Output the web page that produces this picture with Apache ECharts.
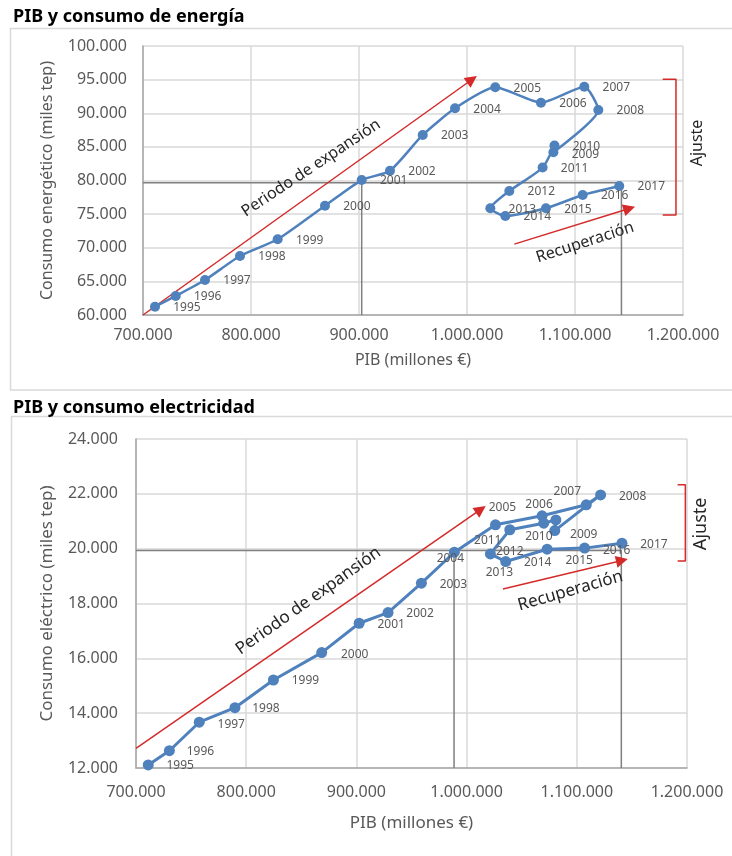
<!DOCTYPE html>
<html>
<head>
<meta charset="utf-8">
<script src="https://cdn.jsdelivr.net/npm/echarts@6/dist/echarts.min.js"></script>
<style>
  html, body { margin: 0; padding: 0; background: #fff; }
  #chart { width: 732px; height: 856px; }
</style>
</head>
<body>
<div id="chart"></div>
<script>
// años y datos
const years = ['1995', '1996', '1997', '1998', '1999', '2000', '2001', '2002', '2003', '2004', '2005', '2006',
  '2007', '2008', '2009', '2010', '2011', '2012', '2013', '2014', '2015', '2016', '2017'];
const pib = [711100, 730300, 757400, 789800, 824700, 868500, 902500, 928700, 959000, 988900, 1026200, 1068500,
  1108600, 1121600, 1080000, 1081000, 1070000, 1039200, 1021600, 1035500, 1073100, 1107100, 1141000];
const energia = [61230, 62830, 65200, 68770, 71260, 76250, 80070, 81460, 86770, 90740, 93860, 91570,
  93950, 90480, 84200, 85200, 81930, 78440, 75870, 74720, 75870, 77840, 79180];
const electricidad = [12110, 12630, 13670, 14200, 15210, 16210, 17280, 17670, 18740, 19870, 20870, 21200,
  21600, 21960, 20660, 21050, 20930, 20690, 19810, 19530, 19980, 20020, 20200];

// ejes
const ejeX = { min: 700000, max: 1200000, interval: 100000 };
const ejeEnergia = { min: 60000, max: 100000, interval: 5000 };
const ejeElec = { min: 12000, max: 24000, interval: 2000 };

// posición de las etiquetas de año en el segundo gráfico (desplazamiento en px)
const offElec = [[32, 1], [31, 1], [32, 2], [31, 1], [32, 1], [33, 2], [32, 1], [32, 1], [32, 1], [-4, 6],
  [7, -17], [-3, -11], [-19, -13], [32, 2], [29, 4], [-17, 17], [-56, 17], [0, 22], [9, 19], [32, 1],
  [32, 11], [32, 2], [32, 1]];

const fmt = v => String(v).replace(/\B(?=(\d{3})+(?!\d))/g, '.');
const FONT = 'Noto Sans';
const azul = '#4f81bd';
const rojo = '#d42a2a';
const gris = '#7f7f7f';

const chart = echarts.init(document.getElementById('chart'));

function xAxis(grid, size, gap) {
  return {
    type: 'value', gridIndex: grid, min: ejeX.min, max: ejeX.max, interval: ejeX.interval,
    name: 'PIB (millones €)', nameLocation: 'middle', nameGap: gap,
    nameTextStyle: { fontFamily: FONT, fontSize: size, color: '#595959' },
    axisLine: { show: true, lineStyle: { color: '#a6a6a6', width: 1.5 } },
    axisTick: { show: false },
    axisLabel: { formatter: fmt, fontFamily: FONT, fontSize: 16, color: '#595959', margin: grid ? 16 : 12 },
    splitLine: { show: true, lineStyle: { color: '#d9d9d9', width: 1.5 } }
  };
}
function yAxis(grid, eje, name, size, gap, margin) {
  return {
    type: 'value', gridIndex: grid, min: eje.min, max: eje.max, interval: eje.interval,
    name: name, nameLocation: 'middle', nameGap: gap,
    nameTextStyle: { fontFamily: FONT, fontSize: size, color: '#595959' },
    axisLine: { show: true, lineStyle: { color: '#a6a6a6', width: 1.5 } },
    axisTick: { show: false },
    axisLabel: { formatter: fmt, fontFamily: FONT, fontSize: 16, color: '#595959', margin: margin },
    splitLine: { show: true, lineStyle: { color: '#d9d9d9', width: 1.5 } }
  };
}

function flecha(grid, a, b) {
  return {
    type: 'line', xAxisIndex: grid, yAxisIndex: grid, data: [], z: 4, silent: true,
    markLine: {
      silent: true, symbol: ['none', 'triangle'], symbolSize: 12,
      label: { show: false },
      lineStyle: { color: rojo, width: 1.5, type: 'solid' },
      itemStyle: { color: '#c00000' },
      emphasis: { disabled: true },
      data: [[{ coord: a }, { coord: b }]]
    }
  };
}
function trazo(grid, pts, color, width, z) {
  return {
    type: 'line', xAxisIndex: grid, yAxisIndex: grid, data: pts, symbol: 'none', clip: false,
    silent: true, z: z, lineStyle: { color: color, width: width }
  };
}

const serieEnergia = pib.map((p, i) => ({ value: [p, energia[i]], label: { offset: [32, i === 14 ? 2 : 1] } }));
const serieElec = pib.map((p, i) => ({ value: [p, electricidad[i]], label: { offset: offElec[i] } }));

chart.setOption({
  backgroundColor: '#fff',
  animation: false,
  grid: [
    { left: 143, top: 46, width: 540, height: 269 },
    { left: 136, top: 439, width: 551, height: 329 }
  ],
  xAxis: [xAxis(0, 16, 37), xAxis(1, 17, 47)],
  yAxis: [
    yAxis(0, ejeEnergia, 'Consumo energético (miles tep)', 16, 88, 16),
    yAxis(1, ejeElec, 'Consumo eléctrico (miles tep)', 17, 80, 18)
  ],
  series: [
    // líneas de referencia grises
    trazo(0, [[ejeX.min, 79670], [1143000, 79670], [1143000, ejeEnergia.min]], gris, 1.5, 1),
    trazo(0, [[902500, 79670], [902500, ejeEnergia.min]], gris, 1.5, 1),
    trazo(1, [[ejeX.min, 19930], [1140400, 19930], [1140400, ejeElec.min]], gris, 1.5, 1),
    trazo(1, [[988600, 19930], [988600, ejeElec.min]], gris, 1.5, 1),
    // corchetes "Ajuste"
    trazo(0, [[1181200, 95050], [1193500, 95050], [1193500, 74870], [1181200, 74870]], rojo, 1.5, 2),
    trazo(1, [[1191500, 22330], [1198500, 22330], [1198500, 19550], [1191500, 19550]], rojo, 1.5, 2),
    // flechas
    flecha(0, [700000, 60000], [1004600, 95020]),
    flecha(0, [1043800, 70540], [1150300, 75840]),
    flecha(1, [700000, 12720], [1012900, 21430]),
    flecha(1, [1033000, 18530], [1141000, 19570]),
    {
      type: 'line', xAxisIndex: 0, yAxisIndex: 0, z: 5, data: serieEnergia,
      smooth: 0.2, symbol: 'circle', symbolSize: 10,
      lineStyle: { color: azul, width: 2.5 }, itemStyle: { color: azul },
      label: {
        show: true, position: 'inside', fontFamily: FONT, fontSize: 12, color: '#595959',
        textBorderWidth: 0, formatter: p => years[p.dataIndex]
      }
    },
    {
      type: 'line', xAxisIndex: 1, yAxisIndex: 1, z: 5, data: serieElec,
      symbol: 'circle', symbolSize: 11,
      lineStyle: { color: azul, width: 3 }, itemStyle: { color: azul },
      label: {
        show: true, position: 'inside', fontFamily: FONT, fontSize: 12, color: '#595959',
        textBorderWidth: 0, formatter: p => years[p.dataIndex]
      }
    }
  ]
});

// textos de anotación, situados en coordenadas de datos
const notas = [
  { g: 0, at: [855600, 81860], text: 'Periodo de expansión', rot: 33.6, size: 16 },
  { g: 0, at: [1109300, 70780], text: 'Recuperación', rot: 18, size: 16 },
  { g: 0, at: [1213000, 85580], text: 'Ajuste', rot: 90, size: 16 },
  { g: 1, at: [856400, 18095], text: 'Periodo de expansión', rot: 35.3, size: 17 },
  { g: 1, at: [1094100, 18460], text: 'Recuperación', rot: 16, size: 17 },
  { g: 1, at: [1212700, 20905], text: 'Ajuste', rot: 90, size: 18 }
];

const graficos = [
  { type: 'rect', shape: { x: 10.5, y: 28.5, width: 730, height: 361.5 },
    style: { fill: 'none', stroke: '#d9d9d9', lineWidth: 1.5 }, z: 0 },
  { type: 'rect', shape: { x: 11.5, y: 416.5, width: 730, height: 500 },
    style: { fill: 'none', stroke: '#d9d9d9', lineWidth: 1.5 }, z: 0 },
  { type: 'text', x: 13, y: 17, style: { text: 'PIB y consumo de energía', fontFamily: FONT, fontSize: 18,
    fontWeight: 'bold', fill: '#000', verticalAlign: 'middle' } },
  { type: 'text', x: 13, y: 408, style: { text: 'PIB y consumo electricidad', fontFamily: FONT, fontSize: 18,
    fontWeight: 'bold', fill: '#000', verticalAlign: 'middle' } }
];
notas.forEach(n => {
  const p = chart.convertToPixel({ gridIndex: n.g }, n.at);
  graficos.push({
    type: 'text', x: p[0], y: p[1], rotation: n.rot * Math.PI / 180, z: 10,
    style: { text: n.text, fontFamily: FONT, fontSize: n.size, fill: '#262626', align: 'center', verticalAlign: 'middle' }
  });
});
chart.setOption({ graphic: graficos });
</script>
</body>
</html>
